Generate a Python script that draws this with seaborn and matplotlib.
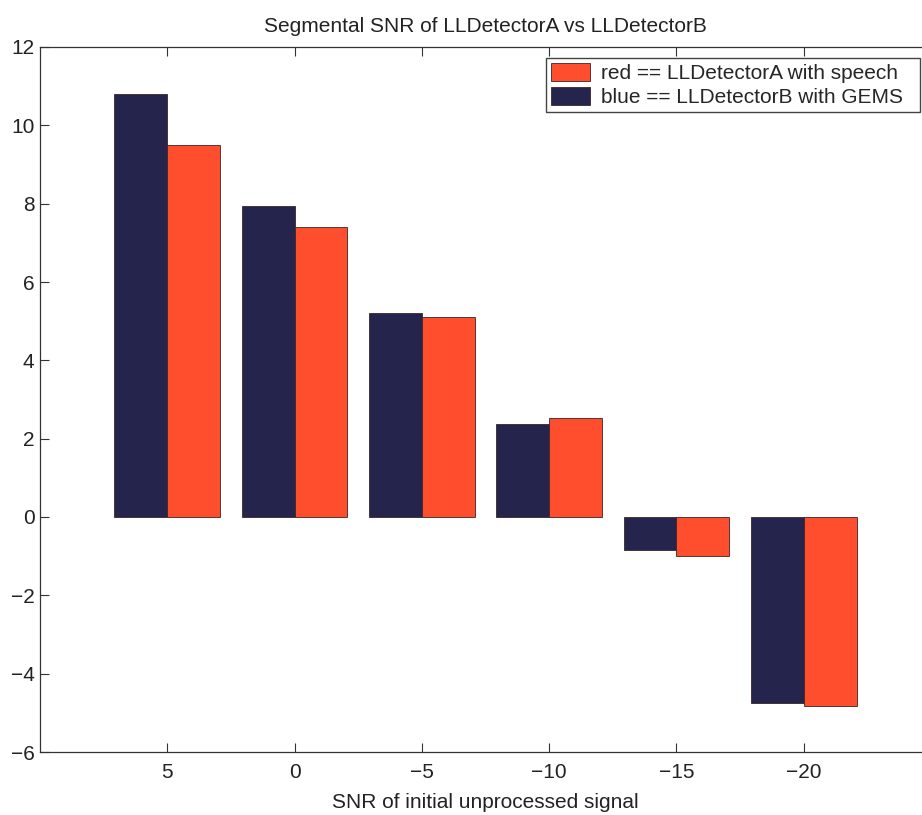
import matplotlib
matplotlib.use("Agg")
import matplotlib.pyplot as plt
from matplotlib.patches import Patch
import pandas as pd
import seaborn as sns

# Input SNR levels (dB) and mean segmental SNR for each detector
snr_levels = ["5", "0", "\u22125", "\u221210", "\u221215", "\u221220"]
detector_b_gems = [10.8, 7.95, 5.22, 2.38, -0.84, -4.75]
detector_a_speech = [9.5, 7.4, 5.11, 2.52, -0.99, -4.82]

series_names = ["blue == LLDetectorB with GEMS", "red == LLDetectorA with speech"]
series_colors = {series_names[0]: "#24244c", series_names[1]: "#ff4e2e"}

df = pd.DataFrame({
    "snr": snr_levels * 2,
    "value": detector_b_gems + detector_a_speech,
    "series": [series_names[0]] * len(snr_levels) + [series_names[1]] * len(snr_levels),
})

sns.set_theme(style="white")
plt.rcParams["font.family"] = ["Liberation Sans", "DejaVu Sans"]
plt.rcParams["axes.unicode_minus"] = True

fig = plt.figure(figsize=(9.22, 8.15), dpi=100)
ax = fig.add_axes([40 / 922, 63 / 815, 891 / 922, 705 / 815])

sns.barplot(
    data=df, x="snr", y="value", hue="series",
    order=snr_levels, hue_order=series_names,
    palette=series_colors, saturation=1, width=0.83,
    edgecolor="#3a2626", linewidth=0.6, errorbar=None, ax=ax,
)

ax.set_xlim(-1, 6)
ax.set_ylim(-6, 12)
ax.set_yticks(range(-6, 13, 2))
ax.set_yticklabels([str(v).replace("-", "\u2212") for v in range(-6, 13, 2)])

ax.set_title("Segmental SNR of LLDetectorA vs LLDetectorB", fontsize=15, pad=11, color="#222222")
ax.set_xlabel("SNR of initial unprocessed signal", fontsize=15, labelpad=8, color="#222222")
ax.set_ylabel("")

for side in ["top", "bottom", "left", "right"]:
    ax.spines[side].set_visible(True)
    ax.spines[side].set_color("#333333")
    ax.spines[side].set_linewidth(0.9)

ax.tick_params(axis="both", which="major", direction="in", length=6.5, width=0.8,
               color="#333333", labelsize=15, labelcolor="#222222",
               top=True, right=True, bottom=True, left=True)
ax.tick_params(axis="x", pad=8)
ax.tick_params(axis="y", pad=4)

# Legend lists the red series first
handles = [Patch(facecolor=series_colors[series_names[1]], edgecolor="#3a2626", linewidth=0.6),
           Patch(facecolor=series_colors[series_names[0]], edgecolor="#3a2626", linewidth=0.6)]
labels = [series_names[1] + "  ", series_names[0] + "  "]
ax.legend(handles, labels, loc="upper right", bbox_to_anchor=(920 / 922, 1 - 58 / 815),
          bbox_transform=fig.transFigure, borderaxespad=0, fontsize=15,
          frameon=True, fancybox=False, edgecolor="#444444", framealpha=1,
          handlelength=1.85, handleheight=0.9, handletextpad=0.55,
          labelspacing=0.2, borderpad=0.25)

fig.savefig("out.png", dpi=100)
